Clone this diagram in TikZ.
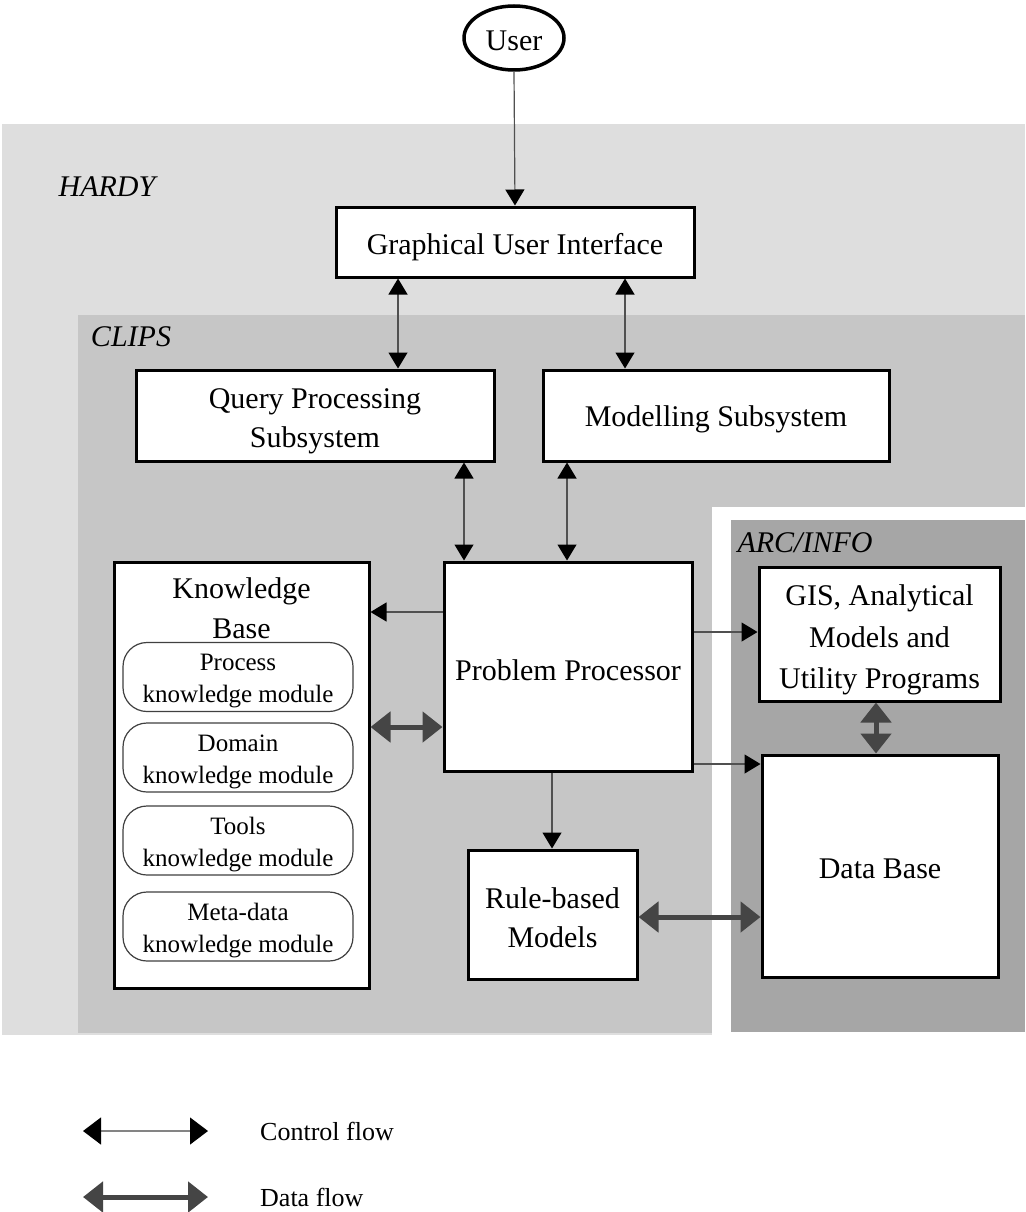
\documentclass[tikz,border=0pt]{standalone}
\usepackage{fontspec}
\setmainfont{Liberation Serif}
\usetikzlibrary{arrows.meta,shapes.geometric}
\definecolor{hardyfill}{HTML}{DEDEDE}
\definecolor{clipsfill}{HTML}{C6C6C6}
\definecolor{arcfill}{HTML}{A6A6A6}
\definecolor{ctrlcol}{HTML}{505050}
\definecolor{datacol}{HTML}{454545}
\begin{document}
\begin{tikzpicture}[x=1pt,y=-1pt,
  box/.style={draw=black,line width=3pt,fill=white,inner sep=0pt},
  btext/.style={align=center,inner sep=0pt,font=\fontsize{30}{39}\selectfont},
  modbox/.style={draw=black!75,line width=1.2pt,fill=white,rounded corners=24pt,
    inner sep=0pt,minimum width=230pt,minimum height=69pt},
  mtext/.style={align=center,inner sep=0pt,font=\fontsize{25}{32}\selectfont},
  reglabel/.style={font=\fontsize{30}{36}\selectfont\itshape,inner sep=0pt},
  ctrl/.style={draw=ctrlcol,line width=1.2pt,-{Triangle[length=16pt,width=19pt,color=black]}},
  ctrlboth/.style={draw=ctrlcol,line width=1.2pt,{Triangle[length=16pt,width=19pt,color=black]}-{Triangle[length=16pt,width=19pt,color=black]}},
  databoth/.style={draw=datacol,line width=5pt,{Triangle[length=20pt,width=30pt,color=datacol]}-{Triangle[length=20pt,width=30pt,color=datacol]}},
  legtext/.style={anchor=west,inner sep=0pt,font=\fontsize{26}{30}\selectfont}
]
\useasboundingbox (0,0) rectangle (1025,1212);
\fill[white] (0,0) rectangle (1025,1212);

% regions
\fill[hardyfill] (2,124) rectangle (1025,1035);
\fill[clipsfill] (78,315) rectangle (1025,1033);
\fill[white] (712,507) rectangle (1025,1035);
\fill[arcfill] (731,520) rectangle (1025,1032);

\node[reglabel] (hardy) at (107,187) {HARDY};
\node[reglabel] (clips) at (131,337) {CLIPS};
\node[reglabel] (arc) at (805,543) {ARC/INFO};

% nodes
\node[draw=black,line width=3.5pt,fill=white,ellipse,minimum width=100pt,minimum height=64pt,
  inner sep=0pt] (user) at (514,38) {};
\node[btext] (usert) at ([yshift=-3pt]user.center) {User};
\node[box,minimum width=358pt,minimum height=70pt] (gui) at (515,242) {};
\node[btext] (guit) at ([yshift=-5pt]gui.center) {Graphical User Interface};
\node[box,minimum width=358pt,minimum height=91pt] (query) at (315,415.5) {};
\node[btext] (queryt) at ([yshift=-6pt]query.center) {Query Processing\\Subsystem};
\node[box,minimum width=346pt,minimum height=91pt] (model) at (716,415.5) {};
\node[btext] (modelt) at ([yshift=-4pt]model.center) {Modelling Subsystem};
\node[box,minimum width=248pt,minimum height=209pt] (pp) at (568,666.5) {};
\node[btext] (ppt) at ([yshift=-4pt]pp.center) {Problem Processor};
\node[box,minimum width=255pt,minimum height=426pt] (kb) at (241.5,775) {};
\node[btext,font=\fontsize{30}{40}\selectfont] (kbt) at (241.5,608) {Knowledge\\Base};
\node[modbox] (m1) at (238,677) {};
\node[mtext] (m1t) at ([yshift=-4pt]m1.center) {Process\\knowledge module};
\node[modbox] (m2) at (238,757.5) {};
\node[mtext] (m2t) at ([yshift=-4pt]m2.center) {Domain\\knowledge module};
\node[modbox] (m3) at (238,840.5) {};
\node[mtext] (m3t) at ([yshift=-4pt]m3.center) {Tools\\knowledge module};
\node[modbox] (m4) at (238,926.5) {};
\node[mtext] (m4t) at ([yshift=-4pt]m4.center) {Meta-data\\knowledge module};
\node[box,minimum width=241pt,minimum height=134pt] (gis) at (879.5,634) {};
\node[btext,font=\fontsize{30}{41.5}\selectfont] (gist) at ([yshift=-6pt]gis.center) {GIS, Analytical\\Models and\\Utility Programs};
\node[box,minimum width=236pt,minimum height=222pt] (db) at (880,866) {};
\node[btext] (dbt) at ([yshift=-3pt]db.center) {Data Base};
\node[box,minimum width=169pt,minimum height=129pt] (rule) at (552.5,914.5) {};
\node[btext] (rulet) at ([yshift=-3pt]rule.center) {Rule-based\\Models};

% helper coordinates
\coordinate (xa) at (398,0);
\coordinate (xb) at (625,0);
\coordinate (xc) at (464,0);
\coordinate (xd) at (567,0);
\coordinate (xe) at (552,0);
\coordinate (xf) at (876,0);
\coordinate (ya) at (0,612);
\coordinate (yb) at (0,727);
\coordinate (yc) at (0,632);
\coordinate (yd) at (0,764);
\coordinate (ye) at (0,917);

% connectors
\draw[ctrl] (user.south) -- (gui.north);
\draw[ctrlboth] (gui.south -| xa) -- (query.north -| xa);
\draw[ctrlboth] (gui.south -| xb) -- (model.north -| xb);
\draw[ctrlboth] (query.south -| xc) -- (pp.north -| xc);
\draw[ctrlboth] (model.south -| xd) -- (pp.north -| xd);
\draw[ctrl] (pp.west |- ya) -- (kb.east |- ya);
\draw[databoth] (kb.east |- yb) -- (pp.west |- yb);
\draw[ctrl] (pp.east |- yc) -- (gis.west |- yc);
\draw[ctrl] (pp.east |- yd) -- (db.west |- yd);
\draw[ctrl] (pp.south -| xe) -- (rule.north -| xe);
\draw[databoth] (rule.east |- ye) -- (db.west |- ye);
\draw[databoth] (gis.south -| xf) -- (db.north -| xf);

% legend
\coordinate (lc1) at (83,1131);
\coordinate (lc2) at (208,1131);
\coordinate (ld1) at (83,1197);
\coordinate (ld2) at (208,1197);
\draw[draw=ctrlcol!70,line width=1.2pt,{Triangle[length=18pt,width=27pt,color=black]}-{Triangle[length=18pt,width=27pt,color=black]}] (lc1) -- (lc2);
\draw[databoth] (ld1) -- (ld2);
\node[legtext] (lt1) at (260,1131) {Control flow};
\node[legtext] (lt2) at (260,1197) {Data flow};
\end{tikzpicture}
\end{document}
